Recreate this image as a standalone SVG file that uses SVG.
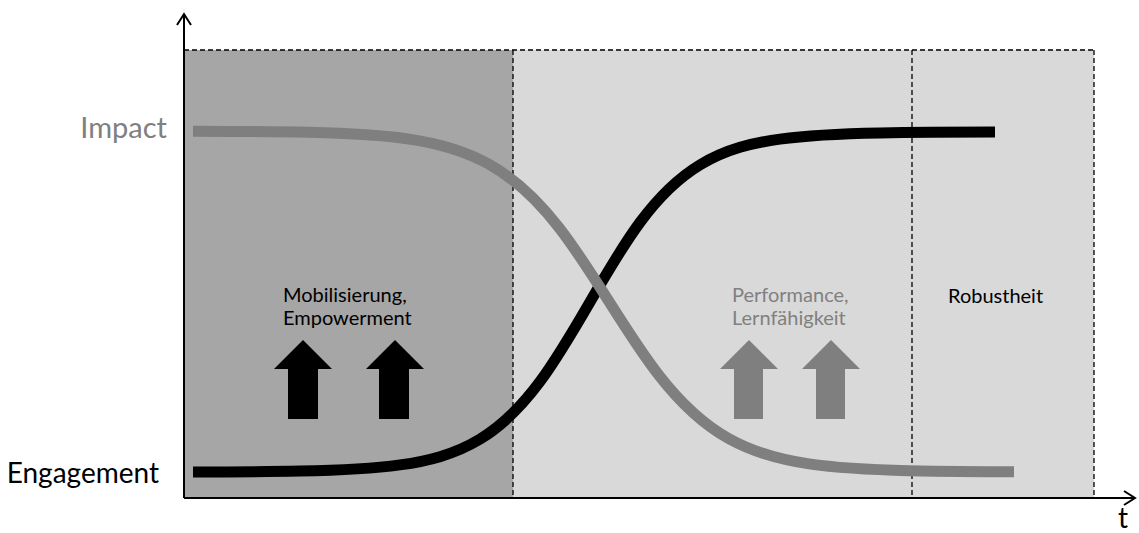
<svg xmlns="http://www.w3.org/2000/svg" width="1139" height="533" viewBox="0 0 1139 533">
  <style>
    .lbl { font-family: Lato, "Liberation Sans", sans-serif; font-size: 20px; }
    .big { font-family: Lato, "Liberation Sans", sans-serif; font-size: 28px; }
    .dash { stroke: #000; stroke-width: 1.3; stroke-dasharray: 5 3; fill: none; }
    .axis { stroke: #000; stroke-width: 2; fill: none; }
    .curve { fill: none; stroke-width: 11; stroke-linejoin: round; stroke-linecap: butt; }
  </style>
  <rect width="1139" height="533" fill="#fff"/>
  <g id="phases">
    <rect id="phase-dark" x="184" y="50" width="329" height="448" fill="#a6a6a6"/>
    <rect id="phase-light" x="513" y="50" width="581" height="448" fill="#d9d9d9"/>
    <path class="dash" d="M184,50 H1094 M513,50 V498 M912,50 V498 M1094,50 V498"/>
  </g>
  <g id="connectors">
    <path id="engagement-curve" class="curve" stroke="#000" d="M193,471.9 C228.7,471.9 264.3,471.8 300,471.1 C333.3,470.5 366.7,469.6 400,464.9 C426.7,461.2 453.3,455.2 480,439.1 C500,427 520,408.6 540,381.6 C556.7,359.1 573.3,330.8 590,302 C606.7,273.2 623.3,244.9 640,222.4 C660,195.4 680,177 700,164.9 C726.7,148.8 753.3,142.8 780,139.1 C813.3,134.4 846.7,133.5 880,132.9 C918.3,132.2 956.7,132.1 995,132.1"/>
    <path id="impact-curve" class="curve" stroke="#7f7f7f" d="M193,131.2 C231.7,131.3 270.3,131.4 309,132.3 C342.3,133.1 375.7,134.2 409,139.1 C435.7,143 462.3,149.4 489,164.2 C512.3,177.2 535.7,197.6 559,227.6 C575.7,249 592.3,275.1 609,301.5 C625.7,327.9 642.3,354 659,375.4 C682.3,405.4 705.7,425.8 729,438.8 C755.7,453.6 782.3,460 809,463.9 C842.3,468.8 875.7,469.9 909,470.7 C944,471.5 979,471.8 1014,471.8"/>
  </g>
  <g id="axes">
    <path class="axis" d="M184,498 V14 M177,25 L184,14 L191,25"/>
    <path class="axis" d="M184,498 H1135 M1124,491 L1135,498 L1124,505"/>
    <text class="big" x="1118" y="528" fill="#000">t</text>
  </g>
  <g id="label-impact">
    <text class="big" x="167" y="138" text-anchor="end" fill="#808080" style="font-size:29px">Impact</text>
  </g>
  <g id="label-engagement">
    <text class="big" x="159" y="483" text-anchor="end" fill="#000">Engagement</text>
  </g>
  <g id="node-mobilisierung">
    <text class="lbl" x="283" y="302" fill="#000">Mobilisierung,</text>
    <text class="lbl" x="283" y="325" fill="#000">Empowerment</text>
    <polygon points="303,340 332,369 318,369 318,419 288,419 288,369 274,369" fill="#000"/>
    <polygon points="395,340 424,369 409,369 409,419 379,419 379,369 366,369" fill="#000"/>
  </g>
  <g id="node-performance">
    <text class="lbl" x="732" y="302" fill="#808080">Performance,</text>
    <text class="lbl" x="732" y="325" fill="#808080">Lernfähigkeit</text>
    <polygon points="749,340 778,369 763,369 763,419 734,419 734,369 720,369" fill="#7f7f7f"/>
    <polygon points="831,340 860,369 845,369 845,419 816,419 816,369 802,369" fill="#7f7f7f"/>
  </g>
  <g id="node-robustheit">
    <text class="lbl" x="948" y="303" fill="#000">Robustheit</text>
  </g>
</svg>
